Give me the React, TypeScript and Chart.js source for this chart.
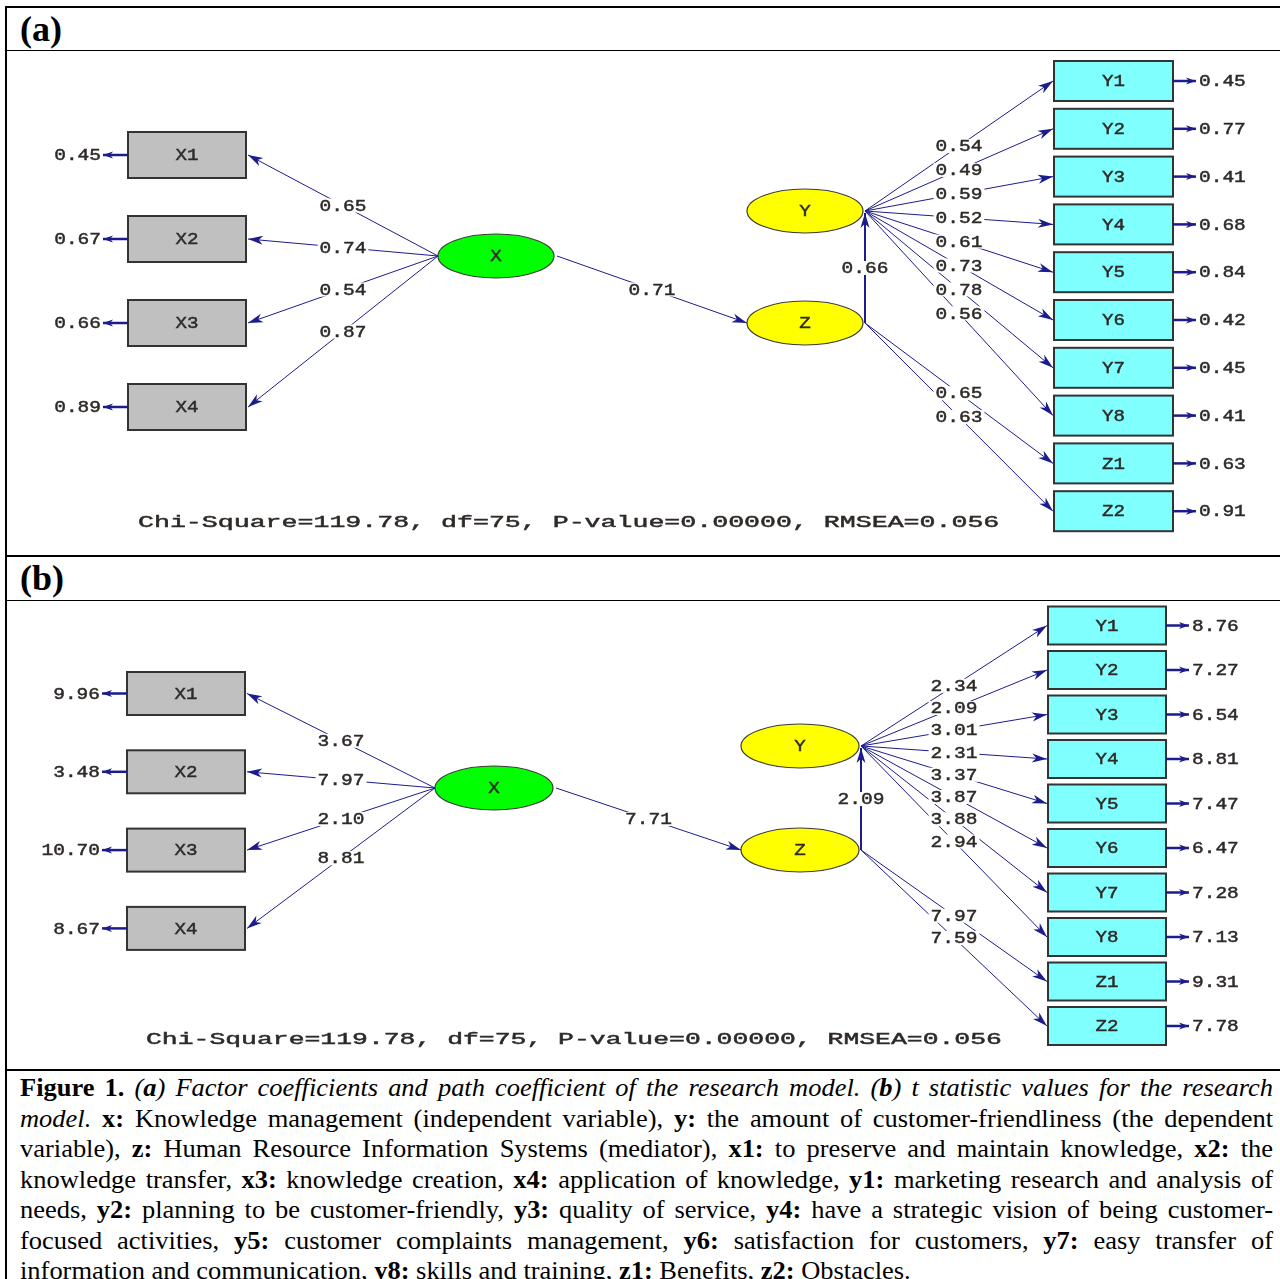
import { useEffect, useRef } from "react";
import Chart from "chart.js/auto";

// indicator and latent names
const xIndicators = ["X1", "X2", "X3", "X4"];
const yIndicators = ["Y1", "Y2", "Y3", "Y4", "Y5", "Y6", "Y7", "Y8"];
const zIndicators = ["Z1", "Z2"];

// (a) standardized solution
const xLoadingsA = [0.65, 0.74, 0.54, 0.87];
const xErrorsA = [0.45, 0.67, 0.66, 0.89];
const yLoadingsA = [0.54, 0.49, 0.59, 0.52, 0.61, 0.73, 0.78, 0.56];
const yErrorsA = [0.45, 0.77, 0.41, 0.68, 0.84, 0.42, 0.45, 0.41];
const zLoadingsA = [0.65, 0.63];
const zErrorsA = [0.63, 0.91];
const pathXZA = 0.71;
const pathZYA = 0.66;

// (b) t-values
const xLoadingsB = [3.67, 7.97, 2.1, 8.81];
const xErrorsB = [9.96, 3.48, 10.7, 8.67];
const yLoadingsB = [2.34, 2.09, 3.01, 2.31, 3.37, 3.87, 3.88, 2.94];
const yErrorsB = [8.76, 7.27, 6.54, 8.81, 7.47, 6.47, 7.28, 7.13];
const zLoadingsB = [7.97, 7.59];
const zErrorsB = [9.31, 7.78];
const pathXZB = 7.71;
const pathZYB = 2.09;

// fit statistics
const chiSquare = "119.78";
const degreesOfFreedom = "75";
const pValue = "0.00000";
const rmsea = "0.056";

const NAVY = "#1c1c8c";
const INK = "#2e2a28";
const MONO = "'Liberation Mono', 'Courier New', monospace";

type BoxCol = { left: number; w: number; h: number; first: number; step: number };
type Layout = {
  top: number;
  width: number;
  height: number;
  leftBox: BoxCol;
  rightBox: BoxCol;
  X: [number, number];
  Y: [number, number];
  Z: [number, number];
  rx: number;
  ry: number;
  fit: [number, number];
  fitCharW: number;
};

type Values = {
  xLoad: number[];
  xErr: number[];
  yLoad: number[];
  yErr: number[];
  zLoad: number[];
  zErr: number[];
  xz: number;
  zy: number;
};

const layoutA: Layout = {
  top: 51,
  width: 1273,
  height: 504,
  leftBox: { left: 121, w: 118, h: 46, first: 104, step: 84 },
  rightBox: { left: 1047, w: 119, h: 40, first: 30, step: 47.8 },
  X: [489, 205],
  Y: [798, 160],
  Z: [798, 272],
  rx: 58,
  ry: 22,
  fit: [131, 471],
  fitCharW: 15.95,
};

const layoutB: Layout = {
  top: 601,
  width: 1273,
  height: 468,
  leftBox: { left: 120, w: 118, h: 43, first: 92.5, step: 78.3 },
  rightBox: { left: 1041, w: 118, h: 38, first: 24.5, step: 44.5 },
  X: [487, 187],
  Y: [793, 145],
  Z: [793, 249],
  rx: 59,
  ry: 22,
  fit: [139, 438],
  fitCharW: 15.85,
};

const fmt = (v: number) => v.toFixed(2);

function monoText(
  ctx: CanvasRenderingContext2D,
  text: string,
  x: number,
  y: number,
  charW: number,
  size: number,
  align: "left" | "center" | "right",
  bg = false
) {
  ctx.save();
  ctx.font = `${size}px ${MONO}`;
  const natural = ctx.measureText(text).width;
  const w = charW * text.length;
  const left = align === "center" ? x - w / 2 : align === "right" ? x - w : x;
  if (bg) {
    ctx.fillStyle = "#ffffff";
    ctx.fillRect(left - 2, y - 7, w + 4, 14);
  }
  ctx.translate(left, y);
  ctx.scale(w / natural, 1);
  ctx.fillStyle = INK;
  ctx.strokeStyle = INK;
  ctx.lineWidth = 0.45;
  ctx.textAlign = "left";
  ctx.textBaseline = "middle";
  ctx.fillText(text, 0, 1);
  ctx.strokeText(text, 0, 1);
  ctx.restore();
}

function arrow(
  ctx: CanvasRenderingContext2D,
  x1: number,
  y1: number,
  x2: number,
  y2: number,
  len = 13,
  half = 4
) {
  ctx.beginPath();
  ctx.moveTo(x1, y1);
  ctx.lineTo(x2, y2);
  ctx.stroke();
  const a = Math.atan2(y2 - y1, x2 - x1);
  const c = Math.cos(a);
  const s = Math.sin(a);
  ctx.beginPath();
  ctx.moveTo(x2, y2);
  ctx.lineTo(x2 - len * c + half * s, y2 - len * s - half * c);
  ctx.lineTo(x2 - len * 0.72 * c, y2 - len * 0.72 * s);
  ctx.lineTo(x2 - len * c - half * s, y2 - len * s + half * c);
  ctx.closePath();
  ctx.fill();
}

function diagramPlugin(L: Layout, V: Values) {
  return {
    id: "pathDiagram",
    afterDraw(chart: Chart) {
      const ctx = chart.ctx;
      const sx = chart.scales.x;
      const sy = chart.scales.y;
      const px = (v: number) => sx.getPixelForValue(v);
      const py = (v: number) => sy.getPixelForValue(v);
      const P = (p: [number, number]): [number, number] => [px(p[0]), py(p[1])];

      const rightNames = [...yIndicators, ...zIndicators];
      const rightLoad = [...V.yLoad, ...V.zLoad];
      const rightErr = [...V.yErr, ...V.zErr];

      const lb = L.leftBox;
      const rb = L.rightBox;
      const leftY = xIndicators.map((_, i) => lb.first + i * lb.step);
      const rightY = rightNames.map((_, i) => rb.first + i * rb.step);

      ctx.save();

      // observed variables
      const box = (left: number, cy: number, w: number, h: number, fill: string) => {
        const x0 = px(left);
        const y0 = py(cy - h / 2);
        const ww = px(left + w) - x0;
        const hh = py(cy + h / 2) - y0;
        ctx.fillStyle = fill;
        ctx.fillRect(x0, y0, ww, hh);
        ctx.strokeStyle = "#333333";
        ctx.lineWidth = 2;
        ctx.strokeRect(x0, y0, ww, hh);
      };
      leftY.forEach((cy) => box(lb.left, cy, lb.w, lb.h, "#c0c0c0"));
      rightY.forEach((cy) => box(rb.left, cy, rb.w, rb.h, "#80ffff"));

      // latent variables
      const ell = (c: [number, number], fill: string) => {
        const [cx, cy] = P(c);
        ctx.beginPath();
        ctx.ellipse(cx, cy, px(c[0] + L.rx) - cx, py(c[1] + L.ry) - cy, 0, 0, Math.PI * 2);
        ctx.fillStyle = fill;
        ctx.fill();
        ctx.strokeStyle = "#3a3a3a";
        ctx.lineWidth = 1.2;
        ctx.stroke();
      };
      ell(L.X, "#00ff00");
      ell(L.Y, "#ffff00");
      ell(L.Z, "#ffff00");

      // paths
      type Edge = { from: [number, number]; to: [number, number]; label: string; w: number };
      const edges: Edge[] = [];
      const xOrigin: [number, number] = [L.X[0] - L.rx, L.X[1]];
      leftY.forEach((cy, i) => {
        edges.push({ from: xOrigin, to: [lb.left + lb.w + 2, cy], label: fmt(V.xLoad[i]), w: 1 });
      });
      edges.push({
        from: [L.X[0] + L.rx + 3, L.X[1]],
        to: [L.Z[0] - L.rx, L.Z[1]],
        label: fmt(V.xz),
        w: 1,
      });
      const yOrigin: [number, number] = [L.Y[0] + L.rx + 2, L.Y[1]];
      const zOrigin: [number, number] = [L.Z[0] + L.rx + 2, L.Z[1]];
      edges.push({ from: zOrigin, to: [yOrigin[0], yOrigin[1] + 2], label: fmt(V.zy), w: 2 });
      rightY.forEach((cy, i) => {
        const origin = i < yIndicators.length ? yOrigin : zOrigin;
        edges.push({ from: origin, to: [rb.left - 1, cy], label: fmt(rightLoad[i]), w: 1 });
      });

      ctx.strokeStyle = NAVY;
      ctx.fillStyle = NAVY;
      edges.forEach((e) => {
        const [x1, y1] = P(e.from);
        const [x2, y2] = P(e.to);
        ctx.lineWidth = e.w;
        arrow(ctx, x1, y1, x2, y2, 15, 4.5);
      });

      // error terms
      ctx.lineWidth = 2.5;
      leftY.forEach((cy) => {
        arrow(ctx, px(lb.left), py(cy), px(lb.left - 25), py(cy), 10, 3.5);
      });
      rightY.forEach((cy) => {
        arrow(ctx, px(rb.left + rb.w), py(cy), px(rb.left + rb.w + 23), py(cy), 10, 3.5);
      });

      // coefficient labels at path midpoints
      edges.forEach((e) => {
        const mx = (px(e.from[0]) + px(e.to[0])) / 2;
        const my = (py(e.from[1]) + py(e.to[1])) / 2;
        monoText(ctx, e.label, mx, my, 11.7, 16, "center", true);
      });

      // names
      leftY.forEach((cy, i) =>
        monoText(ctx, xIndicators[i], px(lb.left + lb.w / 2), py(cy), 11.5, 16, "center")
      );
      rightY.forEach((cy, i) =>
        monoText(ctx, rightNames[i], px(rb.left + rb.w / 2), py(cy), 11.5, 16, "center")
      );
      monoText(ctx, "X", px(L.X[0]), py(L.X[1]), 11.5, 16, "center");
      monoText(ctx, "Y", px(L.Y[0]), py(L.Y[1]), 11.5, 16, "center");
      monoText(ctx, "Z", px(L.Z[0]), py(L.Z[1]), 11.5, 16, "center");

      // error values
      leftY.forEach((cy, i) =>
        monoText(ctx, fmt(V.xErr[i]), px(lb.left - 27), py(cy), 11.7, 16, "right")
      );
      rightY.forEach((cy, i) =>
        monoText(ctx, fmt(rightErr[i]), px(rb.left + rb.w + 26), py(cy), 11.7, 16, "left")
      );

      // fit line
      const fitText = `Chi-Square=${chiSquare}, df=${degreesOfFreedom}, P-value=${pValue}, RMSEA=${rmsea}`;
      monoText(ctx, fitText, px(L.fit[0]), py(L.fit[1]), L.fitCharW, 16, "left");

      ctx.restore();
    },
  };
}

function PathPanel({ layout, values }: { layout: Layout; values: Values }) {
  const canvasRef = useRef<HTMLCanvasElement>(null);

  useEffect(() => {
    if (!canvasRef.current) return;
    const nodes = [layout.X, layout.Y, layout.Z].map((p) => ({ x: p[0], y: p[1] }));
    const chart = new Chart(canvasRef.current, {
      type: "scatter",
      data: { datasets: [{ data: nodes, pointRadius: 0 }] },
      options: {
        animation: false,
        responsive: false,
        devicePixelRatio: 1,
        events: [],
        layout: { padding: 0 },
        plugins: { legend: { display: false }, tooltip: { enabled: false } },
        scales: {
          x: { type: "linear", min: 0, max: layout.width, display: false },
          y: { type: "linear", min: 0, max: layout.height, reverse: true, display: false },
        },
      },
      plugins: [diagramPlugin(layout, values)],
    });
    return () => chart.destroy();
  }, [layout, values]);

  return (
    <div
      style={{
        position: "absolute",
        left: 7,
        top: layout.top,
        width: layout.width,
        height: layout.height,
      }}
    >
      <canvas ref={canvasRef} width={layout.width} height={layout.height} />
    </div>
  );
}

const valuesA: Values = {
  xLoad: xLoadingsA,
  xErr: xErrorsA,
  yLoad: yLoadingsA,
  yErr: yErrorsA,
  zLoad: zLoadingsA,
  zErr: zErrorsA,
  xz: pathXZA,
  zy: pathZYA,
};

const valuesB: Values = {
  xLoad: xLoadingsB,
  xErr: xErrorsB,
  yLoad: yLoadingsB,
  yErr: yErrorsB,
  zLoad: zLoadingsB,
  zErr: zErrorsB,
  xz: pathXZB,
  zy: pathZYB,
};

const rule = (top: number, h: number) => (
  <div style={{ position: "absolute", left: 5, top, width: 1275, height: h, background: "#000" }} />
);

const SERIF = "'Liberation Serif', 'Times New Roman', serif";
const CAPTION_STRETCH = 1.08;

const headStyle = {
  position: "absolute" as const,
  left: 20,
  fontFamily: SERIF,
  fontWeight: 700,
  fontSize: 36,
  lineHeight: "36px",
};

// one caption line, justified edge to edge like the printed figure
const Line = ({ children, last = false }: { children: React.ReactNode; last?: boolean }) => (
  <div
    style={{
      textAlign: "justify",
      textAlignLast: last ? "left" : "justify",
      whiteSpace: "nowrap",
      height: 30.5,
    }}
  >
    {children}
  </div>
);

export default function App() {
  return (
    <div
      style={{
        position: "absolute",
        left: 0,
        top: 0,
        width: 1280,
        height: 1279,
        overflow: "hidden",
        background: "#fff",
      }}
    >
      {rule(6, 2)}
      <div style={{ position: "absolute", left: 5, top: 6, width: 2, height: 1273, background: "#000" }} />
      <div style={{ ...headStyle, top: 11 }}>(a)</div>
      {rule(50, 1)}
      <PathPanel layout={layoutA} values={valuesA} />
      {rule(555, 2)}
      <div style={{ ...headStyle, top: 560 }}>(b)</div>
      {rule(600, 1)}
      <PathPanel layout={layoutB} values={valuesB} />
      {rule(1069, 2)}
      <div
        style={{
          position: "absolute",
          left: 20,
          top: 1073,
          width: 1253 / CAPTION_STRETCH,
          transform: `scaleX(${CAPTION_STRETCH})`,
          transformOrigin: "0 0",
          fontFamily: SERIF,
          fontSize: 24.5,
          lineHeight: "30.5px",
          color: "#000",
        }}
      >
        <Line>
          <b>Figure 1.</b>{" "}
          <i>
            (<b>a</b>) Factor coefficients and path coefficient of the research model. (<b>b</b>) t
            statistic values for the research
          </i>
        </Line>
        <Line>
          <i>model.</i> <b>x:</b> Knowledge management (independent variable), <b>y:</b> the amount
          of customer-friendliness (the dependent
        </Line>
        <Line>
          variable), <b>z:</b> Human Resource Information Systems (mediator), <b>x1:</b> to preserve
          and maintain knowledge, <b>x2:</b> the
        </Line>
        <Line>
          knowledge transfer, <b>x3:</b> knowledge creation, <b>x4:</b> application of knowledge,{" "}
          <b>y1:</b> marketing research and analysis of
        </Line>
        <Line>
          needs, <b>y2:</b> planning to be customer-friendly, <b>y3:</b> quality of service,{" "}
          <b>y4:</b> have a strategic vision of being customer-
        </Line>
        <Line>
          focused activities, <b>y5:</b> customer complaints management, <b>y6:</b> satisfaction for
          customers, <b>y7:</b> easy transfer of
        </Line>
        <Line last>
          information and communication, <b>y8:</b> skills and training, <b>z1:</b> Benefits,{" "}
          <b>z2:</b> Obstacles.
        </Line>
      </div>
    </div>
  );
}
